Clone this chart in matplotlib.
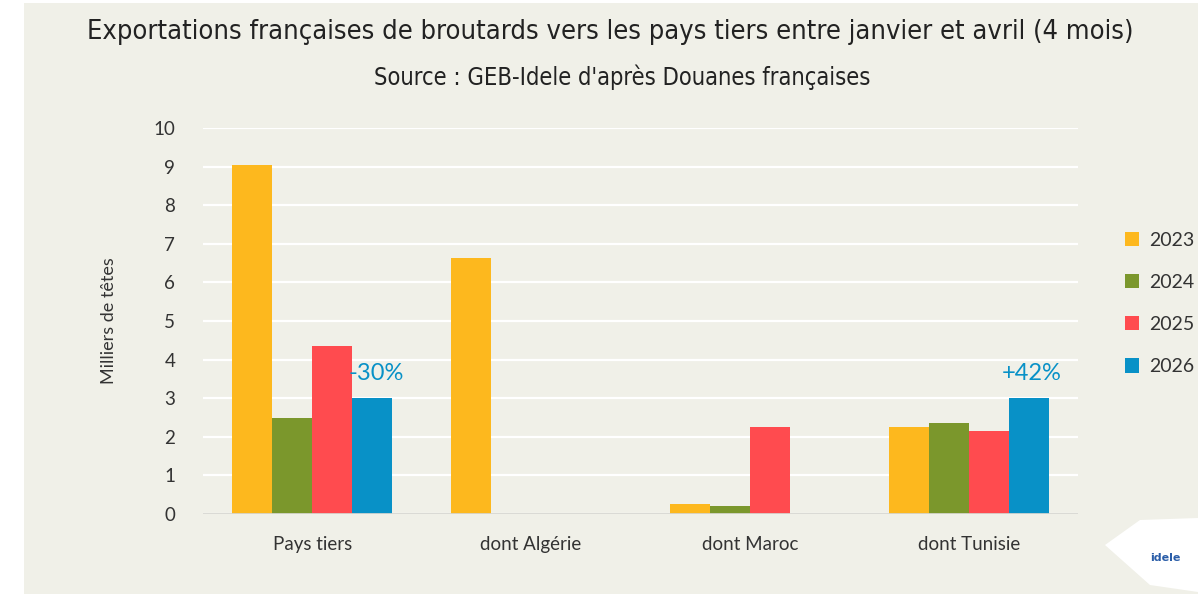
import numpy as np
import matplotlib.pyplot as plt
from matplotlib.patches import Rectangle, Polygon

categories = ['Pays tiers', 'dont Algérie', 'dont Maroc', 'dont Tunisie']
years = ['2023', '2024', '2025', '2026']
v2023 = [9.03, 6.62, 0.25, 2.25]
v2024 = [2.50, 0.0, 0.21, 2.36]
v2025 = [4.34, 0.0, 2.25, 2.14]
v2026 = [3.01, 0.0, 0.0, 3.01]
series = [v2023, v2024, v2025, v2026]
colors = ['#FDB81E', '#7B972C', '#FF4B4F', '#0891C7']
ann_labels = ['-30%', '', '', '+42%']

bg = '#F0F0E8'
txt = '#333333'

fig = plt.figure(figsize=(11.98, 5.94), dpi=100, facecolor='white')
fig.patches.append(Rectangle((24 / 1198, 0), 1 - 24 / 1198, 1 - 3 / 594,
                             transform=fig.transFigure, facecolor=bg,
                             edgecolor='none', zorder=-10))

ax = fig.add_axes([203 / 1198, 1 - 514 / 594, 875 / 1198, (514 - 128) / 594])
ax.set_facecolor(bg)

x = np.arange(len(categories))
w = 0.183
for i, (vals, c, yr) in enumerate(zip(series, colors, years)):
    ax.bar(x + (i - 1.5) * w, vals, w, color=c, label=yr, zorder=3)

# variation 2026 / 2025
for xi, lab in zip(x, ann_labels):
    if lab:
        ax.text(xi + 1.5 * w + 0.015, 3.63, lab, color='#0891C7', fontsize=17,
                ha='center', va='center', family='Lato', zorder=4)

ax.set_xlim(-0.5, 3.5)
ax.set_ylim(0, 10)
ax.set_yticks(range(0, 11))
ax.yaxis.grid(True, color='white', lw=1.6, zorder=0)
ax.axhline(0, color='#D6D6D0', lw=2, zorder=4)
for s in ax.spines.values():
    s.set_visible(False)
ax.tick_params(length=0)
ax.tick_params(axis='y', pad=20, labelsize=13.5, labelcolor=txt)
ax.tick_params(axis='x', pad=16, labelsize=13.5, labelcolor=txt)
ax.set_xticks(x)
ax.set_xticklabels(categories)
for t in ax.get_xticklabels() + ax.get_yticklabels():
    t.set_family('Lato')
ax.set_ylabel('Milliers de têtes', fontsize=13, color=txt, family='Lato', labelpad=26)

leg = fig.legend(loc='upper left', bbox_to_anchor=(1107 / 1198, 1 - 214 / 594),
                 frameon=False, prop={'family': 'Lato', 'size': 14},
                 handlelength=0.75, handleheight=0.75, handletextpad=0.5,
                 labelspacing=1.3, labelcolor=txt)

fig.text(610 / 1198, 1 - 32 / 594,
         'Exportations françaises de broutards vers les pays tiers entre janvier et avril (4 mois)',
         ha='center', va='center', fontsize=19.5, color='#222222',
         family='DejaVu Sans', stretch='condensed')
fig.text(622 / 1198, 1 - 77 / 594, "Source : GEB-Idele d'après Douanes françaises",
         ha='center', va='center', fontsize=17, color='#222222',
         family='DejaVu Sans', stretch='condensed')

# logo
fig.patches.append(Polygon([(1105 / 1198, 1 - 545 / 594), (1140 / 1198, 1 - 520 / 594),
                            (1198 / 1198, 1 - 518 / 594), (1198 / 1198, 1 - 592 / 594),
                            (1150 / 1198, 1 - 585 / 594)],
                           closed=True, transform=fig.transFigure,
                           facecolor='white', edgecolor='none'))
fig.text(1150 / 1198, 1 - 558 / 594, 'idele', fontsize=8, color='#2A5DA8',
         weight='bold', ha='left', va='center')

fig.savefig('out.png', dpi=100)
